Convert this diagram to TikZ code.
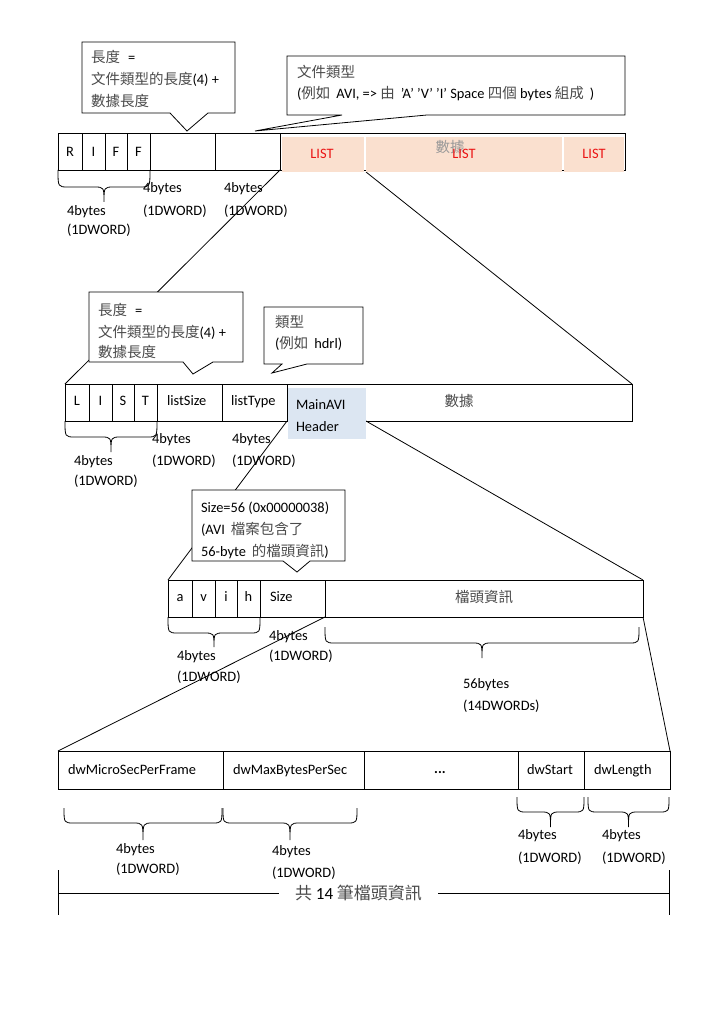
\documentclass[tikz,border=0pt]{standalone}
\usepackage{fontspec}
\setmainfont{Carlito}
\newfontfamily\cjfont{Noto Sans CJK TC}
\usetikzlibrary{backgrounds}
\definecolor{peach}{RGB}{250,224,207}
\definecolor{hdrblue}{RGB}{220,230,242}
\definecolor{listred}{RGB}{235,20,20}
\definecolor{zhgray}{RGB}{75,75,75}
\newcommand\zh[1]{{\cjfont\fontsize{14.5}{17}\selectfont\color{zhgray}#1}}
\newcommand\zhL[1]{{\cjfont\fontsize{17}{20}\selectfont\color{zhgray}#1}}
\newcommand\boxnode[6][]{\node[#1,inner sep=0pt,outer sep=0pt,anchor=north west,minimum width={(#5)-(#3)},minimum height={(#6)-(#4)}] (#2) at (#3,#4) {};}
\newcommand\calloutshape[8]{\path[callout] (#1,#2) -- (#3,#2) -- (#3,#4) -- (#6,#4) -- (#7,#8) -- (#5,#4) -- (#1,#4) -- cycle;}
\newcommand\hbrace[5]{\path[bracel] (#1,#3) .. controls (#1,#4) .. ({#1+10},#4) -- ({(#1+#2)/2-10},#4) .. controls ({(#1+#2)/2},#4) .. ({(#1+#2)/2},#5) .. controls ({(#1+#2)/2},#4) .. ({(#1+#2)/2+10},#4) -- ({#2-10},#4) .. controls (#2,#4) .. (#2,#3);}
\tikzset{
 cellbox/.style={draw=black,line width=0.8pt},
 fillseg/.style={fill=peach},
 bluebox/.style={fill=hdrblue},
 txt/.style={inner sep=0pt,outer sep=0pt,font=\fontsize{14.4}{17}\selectfont,anchor=base west},
 ctxt/.style={txt,anchor=base},
 conn/.style={draw=black,line width=0.8pt},
 callout/.style={draw=black,fill=white,line width=0.8pt,line join=miter},
 bracel/.style={draw=black,line width=0.8pt},
}
\begin{document}
\begin{tikzpicture}[x=1pt,y=-1pt]
\useasboundingbox (0,0) rectangle (724,1024);
\begin{pgfonlayer}{background}\fill[white] (0,0) rectangle (724,1024);\end{pgfonlayer}
% row 1
\boxnode[cellbox]{rR}{58}{133}{82}{170}
\boxnode[cellbox]{rI}{82}{133}{105}{170}
\boxnode[cellbox]{rF1}{105}{133}{127}{170}
\boxnode[cellbox]{rF2}{127}{133}{150}{170}
\boxnode[cellbox]{rSize}{150}{133}{215}{170}
\boxnode[cellbox]{rType}{215}{133}{280}{170}
\boxnode[cellbox]{rData}{280}{133}{625}{170}
\boxnode[fillseg]{seg1}{282}{137}{364}{172}
\boxnode[fillseg]{seg2}{366}{137}{562}{172}
\boxnode[fillseg]{seg3}{564}{137}{624}{172}
% row 2
\boxnode[cellbox]{lL}{65}{384}{89}{421}
\boxnode[cellbox]{lI}{89}{384}{112}{421}
\boxnode[cellbox]{lS}{112}{384}{134}{421}
\boxnode[cellbox]{lT}{134}{384}{157}{421}
\boxnode[cellbox]{lSize}{157}{384}{222}{421}
\boxnode[cellbox]{lType}{222}{384}{287}{421}
\boxnode[cellbox]{lData}{287}{384}{632}{421}
\boxnode[bluebox]{mainavi}{288}{388}{366}{439}
% row 3
\boxnode[cellbox]{aA}{168}{580}{192}{617}
\boxnode[cellbox]{aV}{192}{580}{215}{617}
\boxnode[cellbox]{aI}{215}{580}{237}{617}
\boxnode[cellbox]{aH}{237}{580}{260}{617}
\boxnode[cellbox]{aSize}{260}{580}{325}{617}
\boxnode[cellbox]{aInfo}{325}{580}{643}{617}
% row 4
\boxnode[cellbox]{fA}{58}{751}{223}{789}
\boxnode[cellbox]{fB}{223}{751}{364}{789}
\boxnode[cellbox]{fC}{364}{751}{518}{789}
\boxnode[cellbox]{fD}{518}{751}{584}{789}
\boxnode[cellbox]{fE}{584}{751}{670}{789}
% connectors
\begin{pgfonlayer}{background}
\draw[conn] (rType.south east) -- (lL.north west);
\draw[conn] (seg2.south west) -- (lData.north east);
\draw[conn] (lType.south east) -- (aA.north west);
\draw[conn] (mainavi.east |- lData.south) -- (aInfo.north east);
\draw[conn] (aSize.south east) -- (fA.north west);
\draw[conn] (aInfo.south east) -- (fE.north east);
\end{pgfonlayer}
% braces
\hbrace{58}{150}{170}{187}{202}
\hbrace{65}{157}{421}{437}{452}
\hbrace{168}{260}{617}{633}{647}
\hbrace{325}{639}{627}{643}{658}
\hbrace{64}{222}{808}{823}{840}
\hbrace{223}{357}{808}{823}{840}
\hbrace{517}{584}{797}{812}{827}
\hbrace{588}{669}{797}{812}{827}
% callouts
\calloutshape{82}{42}{235}{113}{170}{208}{187}{131}
\calloutshape{287}{56}{625}{115}{342}{427}{255}{131}
\calloutshape{89}{292}{243}{362}{183}{213}{193}{374}
\calloutshape{264}{307}{363}{364}{282}{307}{272}{373}
\calloutshape{192}{490}{345}{561}{283}{310}{297}{572}
% callout texts
\node[txt] (c1a) at (91,63) {\zh{長度}\hspace{8pt}=};
\node[txt] (c1b) at (91,85) {\zh{文件類型的長度}(4) +};
\node[txt] (c1c) at (91,107) {\zh{數據長度}};
\node[txt] (c2a) at (297,78) {\zh{文件類型}};
\node[txt] (c2b) at (297,99) {(\zh{例如}\hspace{6pt}AVI, => \zh{由}\hspace{6pt}’A’ ’V’ ’I’ Space \zh{四個} bytes \zh{組成}\hspace{6pt})};
\node[txt] (c3a) at (98,315) {\zh{長度}\hspace{8pt}=};
\node[txt] (c3b) at (98,337) {\zh{文件類型的長度}(4) +};
\node[txt] (c3c) at (98,357) {\zh{數據長度}};
\node[txt] (c4a) at (275,327) {\zh{類型}};
\node[txt] (c4b) at (275,348) {(\zh{例如}\hspace{6pt}hdrl)};
\node[txt] (c5a) at (201,512) {Size=56 (0x00000038)};
\node[txt] (c5b) at (201,534) {(AVI\hspace{6pt}\zh{檔案包含了}};
\node[txt] (c5c) at (201,556) {56-byte\hspace{6pt}\zh{的檔頭資訊})};
% row 1 texts
\node[ctxt] (tR) at (70,157) {R};
\node[ctxt] (tI) at (93.5,157) {I};
\node[ctxt] (tF1) at (116,157) {F};
\node[ctxt] (tF2) at (138.5,157) {F};
\node[ctxt] (tdata1) at (450,153) {{\cjfont\fontsize{14.5}{17}\selectfont\color{black!40}數據}};
\node[ctxt,text=listred] (tl1) at (322,159) {LIST};
\node[ctxt,text=listred] (tl2) at (464,159) {LIST};
\node[ctxt,text=listred] (tl3) at (594,159) {LIST};
\node[txt] (b1a) at (67,215) {4bytes};
\node[txt] (b1b) at (67,235) {(1DWORD)};
\node[txt] (b2a) at (143,193) {4bytes};
\node[txt] (b2b) at (143,215) {(1DWORD)};
\node[txt] (b3a) at (224,193) {4bytes};
\node[txt] (b3b) at (224,215) {(1DWORD)};
% row 2 texts
\node[ctxt] (tL) at (77,405) {L};
\node[ctxt] (tI2) at (100.5,405) {I};
\node[ctxt] (tS) at (123,405) {S};
\node[ctxt] (tT) at (145.5,405) {T};
\node[txt] (tls) at (167,405) {listSize};
\node[txt] (tlt) at (231,405) {listType};
\node[txt] (tm1) at (296,409) {MainAVI};
\node[txt] (tm2) at (296,431) {Header};
\node[ctxt] (tdata2) at (459,406) {\zh{數據}};
\node[txt] (b4a) at (74,465) {4bytes};
\node[txt] (b4b) at (74,485) {(1DWORD)};
\node[txt] (b5a) at (152,443) {4bytes};
\node[txt] (b5b) at (152,465) {(1DWORD)};
\node[txt] (b6a) at (232,443) {4bytes};
\node[txt] (b6b) at (232,465) {(1DWORD)};
% row 3 texts
\node[ctxt] (ta) at (180,601) {a};
\node[ctxt] (tv) at (203.5,601) {v};
\node[ctxt] (ti) at (226,601) {i};
\node[ctxt] (th) at (248.5,601) {h};
\node[txt] (tsz) at (270,601.5) {Size};
\node[ctxt] (tinfo) at (484,602) {\zh{檔頭資訊}};
\node[txt] (b7a) at (177,660) {4bytes};
\node[txt] (b7b) at (177,681) {(1DWORD)};
\node[txt] (b8a) at (269,640) {4bytes};
\node[txt] (b8b) at (269,660) {(1DWORD)};
\node[txt] (b9a) at (463,688) {56bytes};
\node[txt] (b9b) at (463,710) {(14DWORDs)};
% row 4 texts
\node[txt] (f1) at (68,774) {dwMicroSecPerFrame};
\node[txt] (f2) at (233,774) {dwMaxBytesPerSec};
\node[ctxt] (f3) at (440,773) {\textbf{...}};
\node[txt] (f4) at (527,774) {dwStart};
\node[txt] (f5) at (594,774) {dwLength};
\node[txt] (b10a) at (116,853) {4bytes};
\node[txt] (b10b) at (116,873) {(1DWORD)};
\node[txt] (b11a) at (272,855) {4bytes};
\node[txt] (b11b) at (272,877) {(1DWORD)};
\node[txt] (b12a) at (518,839) {4bytes};
\node[txt] (b12b) at (518,862) {(1DWORD)};
\node[txt] (b13a) at (602,839) {4bytes};
\node[txt] (b13b) at (602,862) {(1DWORD)};
% dimension
\node[inner xsep=16pt,inner ysep=0pt,font=\fontsize{17}{20}\selectfont] (total) at (358.5,893) {\zhL{共} 14 \zhL{筆檔頭資訊}};
\coordinate (dimL) at (58,893);
\coordinate (dimR) at (669,893);
\coordinate (dimLt) at (58,870);
\coordinate (dimLb) at (58,915);
\coordinate (dimRt) at (669,870);
\coordinate (dimRb) at (669,915);
\draw[conn] (dimL) -- (total.west);
\draw[conn] (total.east) -- (dimR);
\draw[conn] (dimLt) -- (dimLb);
\draw[conn] (dimRt) -- (dimRb);
\end{tikzpicture}
\end{document}
